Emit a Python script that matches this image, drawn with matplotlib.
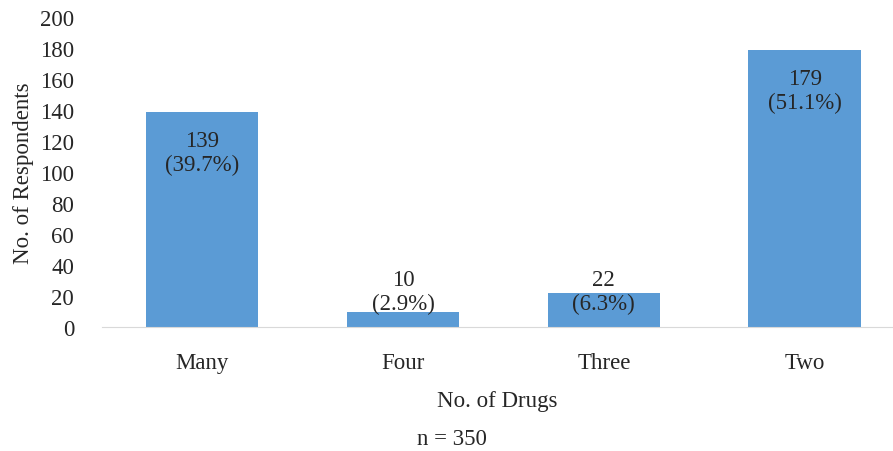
import numpy as np
import matplotlib
matplotlib.use("Agg")
from matplotlib import pyplot as plt

categories = ["Many", "Four", "Three", "Two"]
counts = [139, 10, 22, 179]
percents = [39.7, 2.9, 6.3, 51.1]
n_total = 350

plt.rc('font', family='Liberation Serif', size=16.5)

fig = plt.figure(figsize=(8.93, 4.52), dpi=100)
ax = fig.add_axes([0.114, 0.274, 0.886, 0.686])

x = np.arange(len(categories))
bars = ax.bar(x, counts, width=0.56, color='#5B9BD5', zorder=2)

for xi, c, p in zip(x, counts, percents):
    txt = "%d\n(%.1f%%)" % (c, p)
    if c > 50:
        ax.annotate(txt, (xi, c), xytext=(0, -41), textcoords='offset pixels',
                    ha='center', va='center', color='#262626', linespacing=1.2)
    else:
        ax.text(xi, 23, txt, ha='center', va='center', color='#262626',
                linespacing=1.2)

ax.set_xlim(-0.5, 3.44)
ax.set_ylim(0, 200)
ax.set_yticks(np.arange(0, 201, 20))
ax.set_xticks(x)
ax.set_xticklabels(categories)
for s in ['top', 'right', 'left']:
    ax.spines[s].set_visible(False)
ax.spines['bottom'].set_color('#d9d9d9')
ax.tick_params(axis='both', length=0, colors='#262626')
ax.tick_params(axis='y', pad=20)
ax.tick_params(axis='x', pad=18)
ax.set_xlabel("No. of Drugs", color='#262626', labelpad=12)
ax.set_ylabel("No. of Respondents", color='#262626', labelpad=4)
fig.text(0.506, 0.027, "n = %d" % n_total,
         ha='center', va='center', color='#262626')

fig.savefig("out.png")
